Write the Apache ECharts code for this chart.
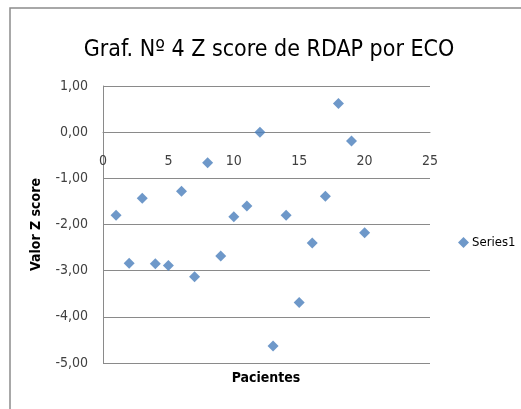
<!DOCTYPE html>
<html>
<head>
<meta charset="utf-8">
<script src="https://cdn.jsdelivr.net/npm/echarts@6/dist/echarts.min.js"></script>
<style>
  html, body { margin: 0; padding: 0; background: #fff; }
  #chart { width: 521px; height: 409px; }
</style>
</head>
<body>
<div id="chart"></div>
<script>
// datos
const pacientes = [1, 2, 3, 4, 5, 6, 7, 8, 9, 10, 11, 12, 13, 14, 15, 16, 17, 18, 19, 20]
const zScores = [-1.80, -2.84, -1.43, -2.85, -2.89, -1.28, -3.13, -0.66, -2.68, -1.83,
  -1.60, 0.00, -4.63, -1.80, -3.69, -2.40, -1.39, 0.62, -0.19, -2.18]
const xTicks = [0, 5, 10, 15, 20, 25]
const yTicks = [-5, -4, -3, -2, -1, 0, 1]

const fontFam = "'Liberation Sans Narrow', 'DejaVu Sans Condensed', 'Liberation Sans', sans-serif"
const gridColor = '#8a8a8a'

const chart = echarts.init(document.getElementById('chart'))

// el eje X cruza en y = 0: se desplaza desde el borde inferior de la rejilla
const gridTop = 86
const gridBottom = 46
const plotH = 409 - gridTop - gridBottom
const yMin = yTicks[0]
const yMax = yTicks[yTicks.length - 1]
const zeroOffset = -Math.round(plotH * (0 - yMin) / (yMax - yMin))

const option = {
  animation: false,
  backgroundColor: '#fff',
  title: {
    text: 'Graf. Nº 4 Z score de RDAP por ECO',
    left: 264,
    textAlign: 'center',
    top: 34,
    textStyle: { fontFamily: fontFam, fontSize: 23, fontWeight: 'normal', color: '#000' }
  },
  legend: {
    left: 453,
    top: 231,
    icon: 'diamond',
    itemWidth: 11,
    itemHeight: 11,
    itemGap: 4,
    textStyle: { fontFamily: fontFam, fontSize: 13, color: '#000', padding: [0, 0, 0, -2] },
    data: ['Series1']
  },
  graphic: [
    {
      type: 'rect',
      shape: { x: 10, y: 8, width: 600, height: 500 },
      style: { fill: 'none', stroke: '#8c8c8c', lineWidth: 1.5 },
      silent: true
    },
    {
      type: 'text',
      x: 266,
      y: 371,
      style: {
        text: 'Pacientes',
        align: 'center',
        verticalAlign: 'top',
        fontFamily: fontFam,
        fontSize: 14,
        fontWeight: 'bold',
        fill: '#000'
      },
      silent: true
    }
  ],
  grid: { left: 103, right: 91, top: gridTop, bottom: gridBottom },
  xAxis: {
    type: 'value',
    position: 'bottom',
    offset: zeroOffset,
    min: xTicks[0],
    max: xTicks[xTicks.length - 1],
    interval: 5,
    axisLine: { show: true, onZero: false, lineStyle: { color: gridColor } },
    axisTick: { show: false },
    splitLine: { show: false },
    axisLabel: { margin: 22, fontFamily: fontFam, fontSize: 14, color: '#404040' }
  },
  yAxis: {
    type: 'value',
    min: yMin,
    max: yMax,
    interval: 1,
    axisLine: { show: true, onZero: false, lineStyle: { color: gridColor } },
    axisTick: { show: false },
    splitLine: { show: true, lineStyle: { color: gridColor, width: 1 } },
    axisLabel: {
      margin: 15,
      fontFamily: fontFam,
      fontSize: 14,
      color: '#404040',
      formatter: v => v.toFixed(2).replace('.', ',')
    },
    name: 'Valor Z score',
    nameLocation: 'middle',
    nameRotate: 90,
    nameGap: 60,
    nameTextStyle: { fontFamily: fontFam, fontSize: 14, fontWeight: 'bold', color: '#000' }
  },
  series: [
    {
      name: 'Series1',
      type: 'scatter',
      symbol: 'diamond',
      symbolSize: 11,
      itemStyle: { color: '#4a7ebb' },
      data: pacientes.map((p, i) => [p, zScores[i]])
    }
  ]
}

chart.setOption(option)
</script>
</body>
</html>
